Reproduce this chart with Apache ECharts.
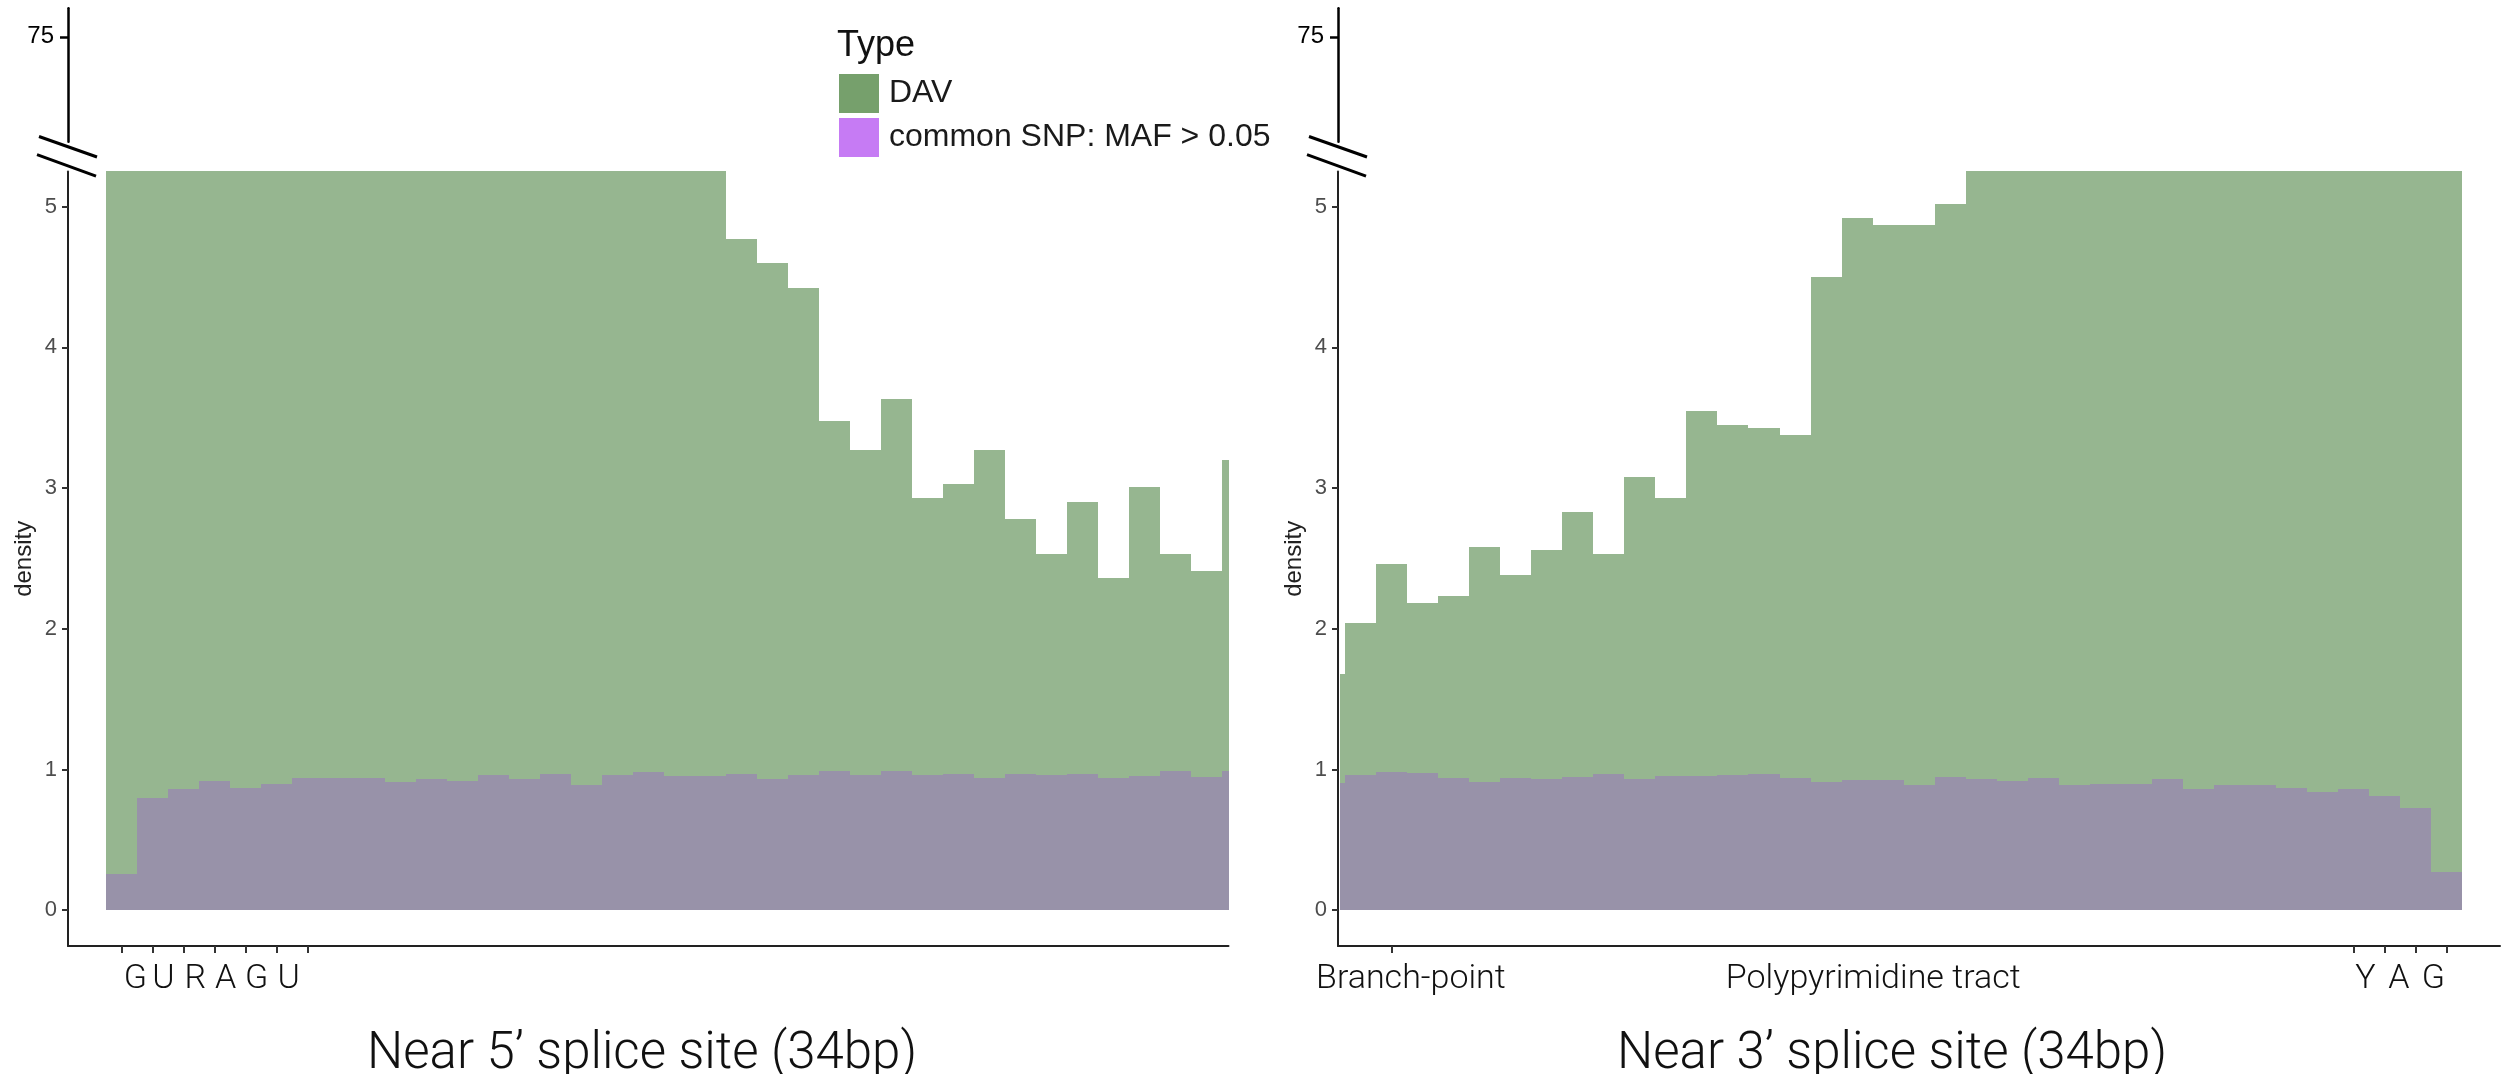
<!DOCTYPE html>
<html><head><meta charset="utf-8">
<script src="https://cdn.jsdelivr.net/npm/echarts@6/dist/echarts.min.js"></script>
<style>html,body{margin:0;padding:0;background:#fff}#c{width:2501px;height:1074px}</style>
</head><body><div id="c"></div>
<script>
// ---------- data (densities per position bin) ----------
// Near 5' splice site: 36 full bins + a narrow final bin. Values at 5.25 reach the axis break.
const dav5 = [5.25,5.25,5.25,5.25,5.25,5.25,5.25,5.25,5.25,5.25,5.25,5.25,5.25,5.25,5.25,5.25,5.25,5.25,5.25,5.25,
              4.77,4.60,4.42,3.48,3.27,3.63,2.93,3.03,3.27,2.78,2.53,2.90,2.36,3.01,2.53,2.41,3.20];
const snp5 = [0.26,0.80,0.86,0.92,0.87,0.90,0.94,0.94,0.94,0.91,0.93,0.92,0.96,0.93,0.97,0.89,0.96,0.98,0.955,0.955,
              0.97,0.93,0.96,0.99,0.96,0.99,0.96,0.97,0.94,0.97,0.96,0.97,0.94,0.955,0.99,0.95,0.99];
// Near 3' splice site: a narrow first bin + 36 full bins.
const dav3 = [1.68,2.04,2.46,2.18,2.23,2.58,2.38,2.56,2.83,2.53,3.08,2.93,3.55,3.45,3.43,3.38,4.50,4.92,4.87,4.87,5.02,
              5.25,5.25,5.25,5.25,5.25,5.25,5.25,5.25,5.25,5.25,5.25,5.25,5.25,5.25,5.25,5.25];
const snp3 = [0.905,0.96,0.98,0.975,0.94,0.91,0.94,0.935,0.945,0.965,0.935,0.955,0.955,0.96,0.97,0.94,0.91,0.925,0.925,0.89,0.945,
              0.935,0.915,0.94,0.89,0.90,0.90,0.93,0.86,0.89,0.89,0.87,0.84,0.86,0.81,0.73,0.27];
const yTicks = [0,1,2,3,4,5];
const upperTicks = [75];
const seriesNames = ['DAV','common SNP: MAF > 0.05'];
const ticks5 = [0.5,1.5,2.5,3.5,4.5,5.5,6.5];
const labelPos5 = [0.95,1.85,2.88,3.86,4.86,5.89];
const labelText5 = ['G','U','R','A','G','U'];
const ticks3 = [1.5,32.5,33.5,34.5,35.5];
const labelPos3 = [2.12,17.02,32.88,33.96,35.07];
const labelText3 = ['Branch-point','Polypyrimidine tract','Y','A','G'];
const titles = ['Near 5\u2019 splice site (34bp)','Near 3\u2019 splice site (34bp)'];
const NARROW5 = 0.2, NARROW3 = 0.15;

// ---------- helpers ----------
const bins5 = vals => vals.map((v,i) => i < 36 ? [i, i+1, v] : [36, 36+NARROW5, v]);
const bins3 = vals => vals.map((v,i) => i === 0 ? [-NARROW3, 0, v] : [i-1, i, v]);
function renderBin(params, api){
  const p0 = api.coord([api.value(0), api.value(2)]);
  const p1 = api.coord([api.value(1), 0]);
  const x0 = Math.round(p0[0]), x1 = Math.round(p1[0]);
  const y0 = Math.round(p0[1]), y1 = Math.round(p1[1]);
  return {type:'rect', shape:{x:x0, y:y0, width:x1-x0, height:y1-y0}, style:{fill: api.visual('color')}};
}
const FONT = 'Liberation Sans, Arial, sans-serif';
const LIGHT = 'Roboto, Liberation Sans, sans-serif';
const GREEN = '#96B690', OVER = '#9892A9';
const fmt = (pos, txt) => v => { const i = pos.findIndex(p => Math.abs(p - v) < 1e-6); return i >= 0 ? txt[i] : ''; };

function lowerY(gi){
  return {gridIndex:gi, type:'value', min:-0.255, max:5.25,
    axisLine:{show:true, onZero:false, lineStyle:{color:'#222', width:2}},
    axisTick:{show:true, length:6, customValues:yTicks, lineStyle:{color:'#333', width:2}},
    axisLabel:{customValues:yTicks, margin:11, color:'#4d4d4d', fontSize:22, fontFamily:FONT},
    splitLine:{show:false},
    name:'density', nameLocation:'middle', nameGap:32,
    nameTextStyle:{fontSize:24, color:'#222', fontFamily:FONT}};
}
function upperY(gi){
  return {gridIndex:gi, type:'value', min:40, max:84.5,
    axisLine:{show:true, onZero:false, lineStyle:{color:'#000', width:2.5}},
    axisTick:{show:true, length:8, customValues:upperTicks, lineStyle:{color:'#000', width:2.5}},
    axisLabel:{customValues:upperTicks, margin:14, color:'#000', fontSize:24, fontFamily:FONT},
    splitLine:{show:false}};
}
function lowerX(gi, min, max, ticks, pos, txt){
  return {gridIndex:gi, type:'value', min, max,
    axisLine:{show:true, onZero:false, lineStyle:{color:'#222', width:2}},
    axisTick:{show:true, length:7, customValues:ticks, lineStyle:{color:'#333', width:2}},
    axisLabel:{customValues:pos, formatter:fmt(pos, txt), margin:16, color:'#111', fontSize:34,
      fontWeight:300, fontFamily:LIGHT},
    splitLine:{show:false}};
}
const hiddenX = gi => ({gridIndex:gi, type:'value', min:0, max:1, show:false});
const G = {outerBoundsMode:'none', containLabel:false};

function breakLines(ax){
  return [
    {type:'line', shape:{x1:ax-29, y1:136.5, x2:ax+29, y2:157}, style:{stroke:'#000', lineWidth:3}},
    {type:'line', shape:{x1:ax-31, y1:154.7, x2:ax+28, y2:176.2}, style:{stroke:'#000', lineWidth:3}}
  ];
}
function txt(text, x, y, size, align, family, weight){
  return {type:'text', x, y, style:{text, fontSize:size, fontFamily:family, fontWeight:weight, fill:'#111',
    align:align, textAlign:align, verticalAlign:'middle', textVerticalAlign:'middle'}};
}

const chart = echarts.init(document.getElementById('c'), null, {renderer:'canvas'});
chart.setOption({
  animation:false,
  backgroundColor:'#fff',
  grid:[
    Object.assign({left:68, top:171.5, width:1160.5, height:774.6}, G),
    Object.assign({left:68, top:8.3, width:1160.5, height:133.4}, G),
    Object.assign({left:1338, top:171.5, width:1162, height:774.6}, G),
    Object.assign({left:1338, top:8.3, width:1162, height:133.4}, G)
  ],
  xAxis:[
    lowerX(0, -1.225, 36.2, ticks5, labelPos5, labelText5),
    hiddenX(1),
    lowerX(2, -0.229, 37.22, ticks3, labelPos3, labelText3),
    hiddenX(3)
  ],
  yAxis:[lowerY(0), upperY(1), lowerY(2), upperY(3)],
  legend:{left:839, top:74, orient:'vertical', itemWidth:40, itemHeight:39, itemGap:5, padding:0,
    icon:'rect', selectedMode:false,
    textStyle:{fontSize:32, color:'#1a1a1a', fontFamily:FONT, padding:[0,0,0,5]},
    data:[{name:seriesNames[0], itemStyle:{color:'#76A06C'}}, {name:seriesNames[1], itemStyle:{color:'#C67BF4'}}]},
  graphic:[
    ...breakLines(68), ...breakLines(1338),
    txt('Type', 837, 46, 36, 'left', FONT, 'normal'),
    txt(titles[0], 642, 1055, 51, 'center', LIGHT, 300),
    txt(titles[1], 1892, 1055, 51, 'center', LIGHT, 300)
  ],
  series:[
    {type:'custom', name:seriesNames[0], xAxisIndex:0, yAxisIndex:0, renderItem:renderBin, encode:{x:[0,1], y:2},
     itemStyle:{color:GREEN}, data:bins5(dav5), z:2},
    {type:'custom', name:seriesNames[1], xAxisIndex:0, yAxisIndex:0, renderItem:renderBin, encode:{x:[0,1], y:2},
     itemStyle:{color:OVER}, data:bins5(snp5), z:3},
    {type:'custom', name:seriesNames[0], xAxisIndex:2, yAxisIndex:2, renderItem:renderBin, encode:{x:[0,1], y:2},
     itemStyle:{color:GREEN}, data:bins3(dav3), z:2},
    {type:'custom', name:seriesNames[1], xAxisIndex:2, yAxisIndex:2, renderItem:renderBin, encode:{x:[0,1], y:2},
     itemStyle:{color:OVER}, data:bins3(snp3), z:3}
  ]
});
</script></body></html>
